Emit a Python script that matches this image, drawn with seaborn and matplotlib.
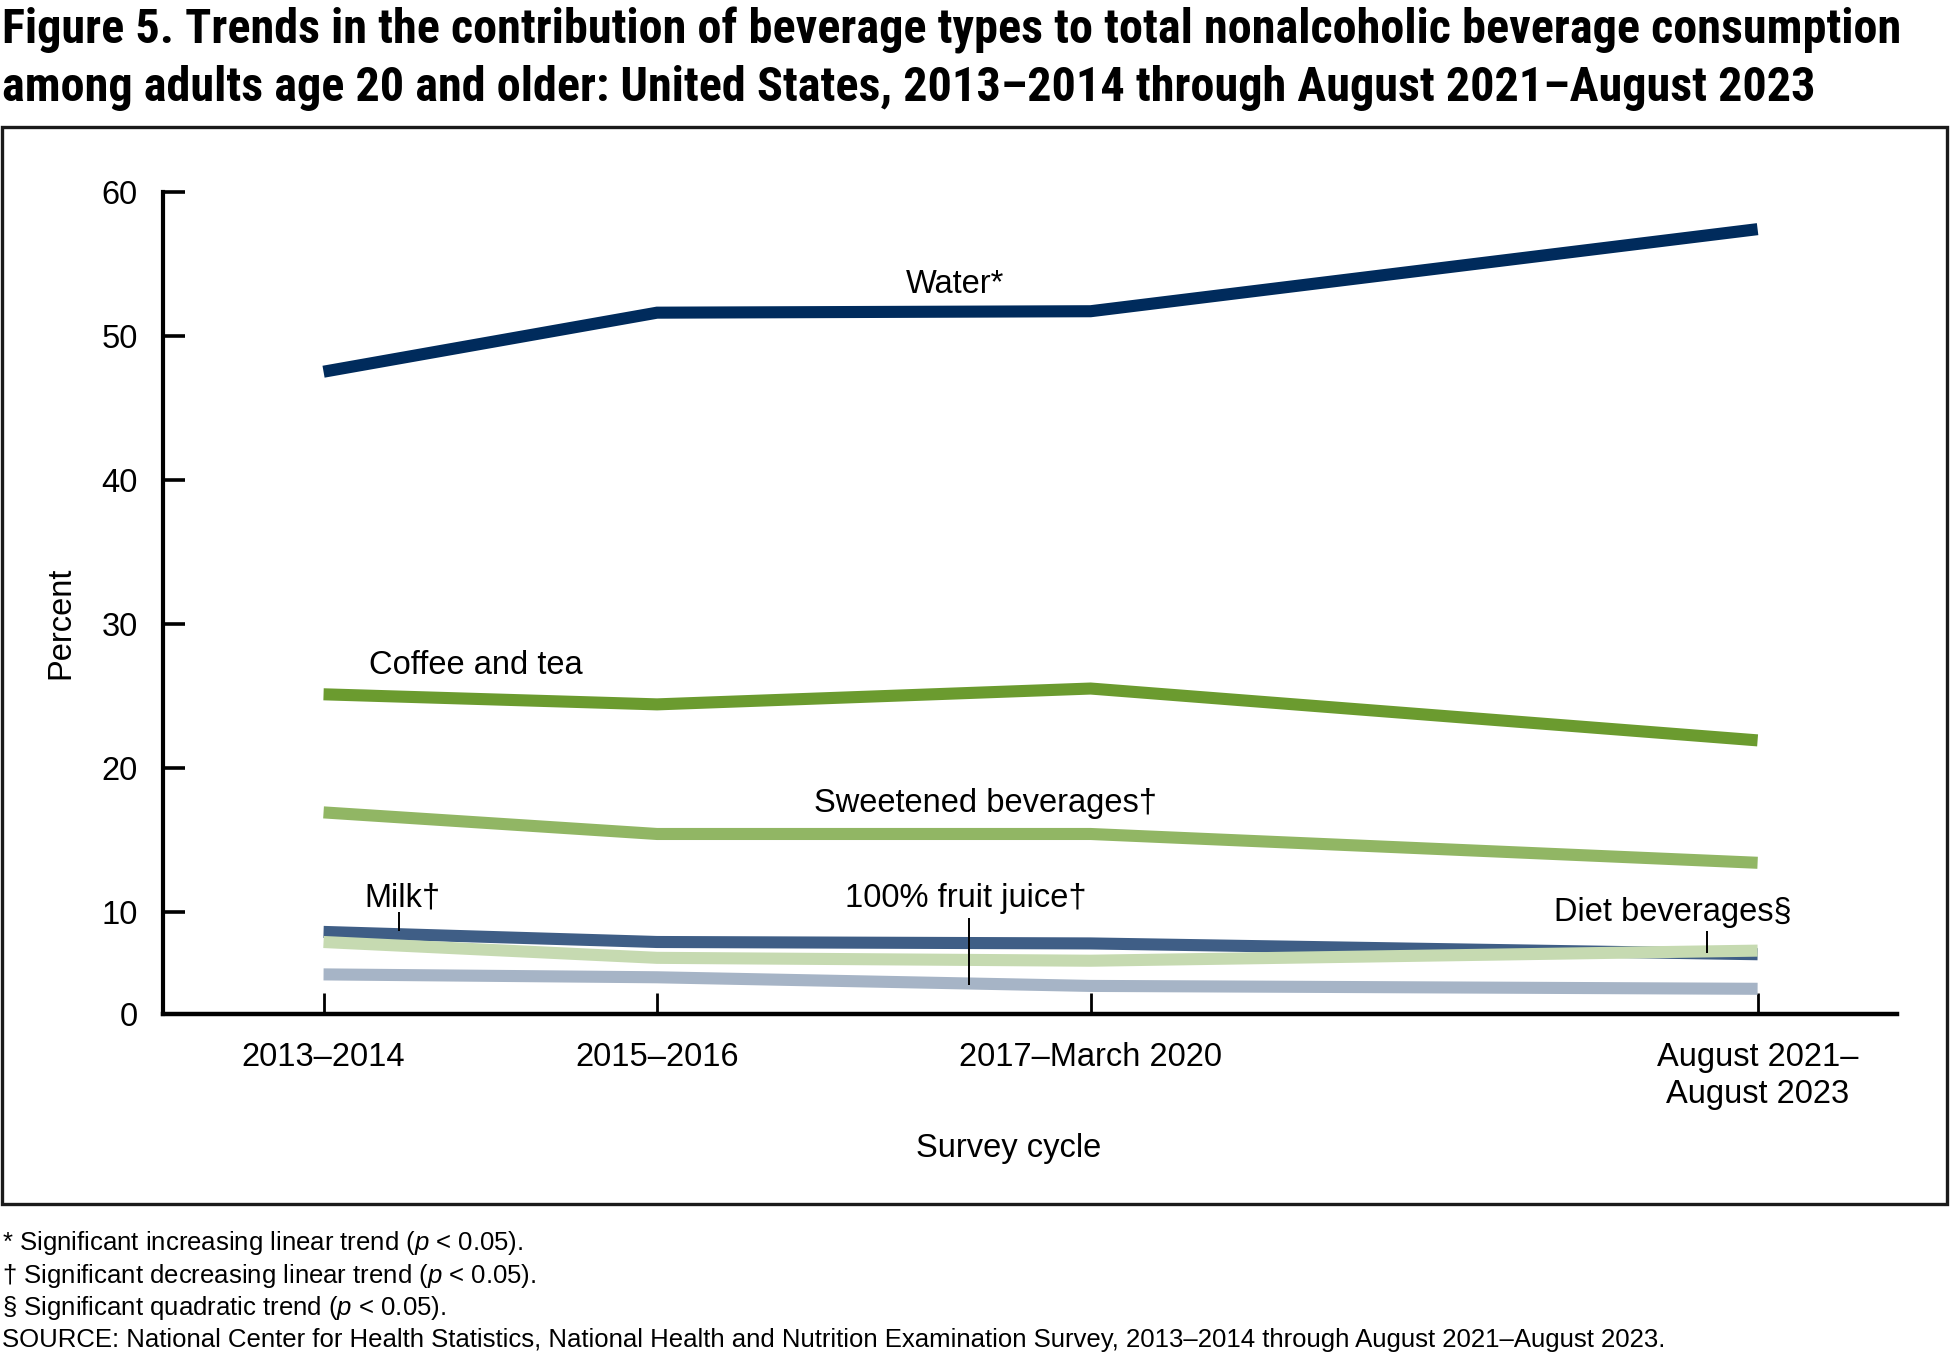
import numpy as np
import pandas as pd
import matplotlib
matplotlib.use("Agg")
import matplotlib.pyplot as plt
import seaborn as sns
from matplotlib import font_manager as fm
from matplotlib.patches import Rectangle

# ---------------- data ----------------
cycle_labels = ["2013–2014", "2015–2016", "2017–March 2020", "August 2021–\nAugust 2023"]
cycle_midyear = [2014.0, 2016.0, 2018.6, 2022.6]

water = [47.5, 51.6, 51.7, 57.4]
coffee_tea = [25.1, 24.4, 25.5, 21.9]
sweetened = [16.9, 15.4, 15.4, 13.4]
milk = [8.6, 7.9, 7.8, 7.05]
diet = [7.9, 6.8, 6.6, 7.3]
fruit_juice = [5.65, 5.45, 4.85, 4.65]

series_names = ["Water", "Coffee and tea", "Sweetened beverages",
                "Milk", "Diet beverages", "100% fruit juice"]
series_values = [water, coffee_tea, sweetened, milk, diet, fruit_juice]

y_tick_values = [10, 20, 30, 40, 50, 60]
y_tick_labels = ["10", "20", "30", "40", "50", "60"]

title_lines = [
    "Figure 5. Trends in the contribution of beverage types to total nonalcoholic beverage consumption",
    "among adults age 20 and older: United States, 2013–2014 through August 2021–August 2023",
]
footnotes = [
    "* Significant increasing linear trend ($p$ < 0.05).",
    "† Significant decreasing linear trend ($p$ < 0.05).",
    "§ Significant quadratic trend ($p$ < 0.05).",
    "SOURCE: National Center for Health Statistics, National Health and Nutrition Examination Survey, 2013–2014 through August 2021–August 2023.",
]

colors = {
    "Water": "#002B5C",
    "Coffee and tea": "#6B9B2F",
    "Sweetened beverages": "#91B664",
    "Milk": "#3F5E86",
    "Diet beverages": "#C6DAB1",
    "100% fruit juice": "#A6B4C6",
}

# ---------------- style ----------------
sns.set_theme(style="white")
plt.rcParams["font.family"] = ["Liberation Sans", "DejaVu Sans"]
plt.rcParams["mathtext.fontset"] = "custom"
plt.rcParams["mathtext.it"] = "Liberation Sans:italic"
plt.rcParams["mathtext.rm"] = "Liberation Sans"

W, H = 1951, 1356
fig = plt.figure(figsize=(W / 100, H / 100), dpi=100)
fig.patch.set_facecolor("white")

def fx(px):
    return px / W

def fy(py):
    return 1 - py / H

# axes geometry (pixels)
ax_left, ax_right, ax_bottom, ax_top = 163.3, 1897.0, 1014.0, 191.7
ax = fig.add_axes([fx(ax_left), fy(ax_bottom), fx(ax_right) - fx(ax_left), fy(ax_top) - fy(ax_bottom)])
ax.set_facecolor("white")

rows = []
for name, vals in zip(series_names, series_values):
    for yr, v in zip(cycle_midyear, vals):
        rows.append({"year": yr, "pct": v, "beverage": name})
df = pd.DataFrame(rows)

sns.lineplot(data=df, x="year", y="pct", hue="beverage", hue_order=series_names,
             palette=colors, linewidth=8.7, legend=False, estimator=None,
             sort=False, ax=ax)
for ln in ax.lines:
    ln.set_solid_capstyle("butt")
    ln.set_solid_joinstyle("miter")

y_bottom = 2.9
ax.set_xlim(2013.039, 2023.436)
ax.set_ylim(y_bottom, 60)

ax.set_xticks(cycle_midyear)
ax.set_xticklabels(cycle_labels, fontsize=23.5, linespacing=1.26)
ax.set_yticks([y_bottom] + y_tick_values)
ax.set_yticklabels(["0"] + y_tick_labels, fontsize=23.5)

ax.tick_params(axis="y", direction="in", length=16, width=2.6, pad=18.5,
               colors="black", left=True)
ax.tick_params(axis="x", direction="in", length=15, width=2.0, pad=20,
               colors="black", bottom=True)

for s in ["top", "right"]:
    ax.spines[s].set_visible(False)
ax.spines["left"].set_linewidth(3.0)
ax.spines["left"].set_color("black")
ax.spines["bottom"].set_linewidth(3.2)
ax.spines["bottom"].set_color("black")

ax.set_xlabel("Survey cycle", fontsize=23.5, color="black")
ax.xaxis.set_label_coords((1009 - ax_left) / (ax_right - ax_left),
                          (ax_bottom - 1148.5) / (ax_bottom - ax_top))
ax.xaxis.label.set_va("center")
ax.set_ylabel("Percent", fontsize=23.5, color="black")
ax.yaxis.set_label_coords((60.8 - ax_left) / (ax_right - ax_left),
                          (ax_bottom - 623) / (ax_bottom - ax_top))
ax.yaxis.label.set_va("center")

# series labels
fs = 23.5
ax.text(2017.79, 52.94, "Water*", fontsize=fs, ha="center", va="baseline", color="black")
ax.text(2014.27, 26.5, "Coffee and tea", fontsize=fs, ha="left", va="baseline", color="black")
ax.text(2017.97, 16.94, "Sweetened beverages†", fontsize=fs, ha="center", va="baseline", color="black")
ax.text(2014.47, 10.35, "Milk†", fontsize=fs, ha="center", va="baseline", color="black")
ax.text(2017.85, 10.35, "100% fruit juice†", fontsize=fs, ha="center", va="baseline", color="black")
ax.text(2022.09, 9.375, "Diet beverages§", fontsize=fs, ha="center", va="baseline", color="black")

# leader lines
ax.vlines([2014.45], 8.66, 10.0, color="black", lw=1.4)
ax.vlines([2017.87], 4.91, 9.56, color="black", lw=1.4)
ax.vlines([2022.295], 7.11, 8.68, color="black", lw=1.4)

# frame box around chart
fig.patches.append(Rectangle((fx(1.5), fy(1204)), fx(1947) - fx(1.5), fy(127) - fy(1204),
                             transform=fig.transFigure, fill=False,
                             edgecolor="#1a1a1a", linewidth=2.4, zorder=5))

# title font: a condensed bold grotesque if available
bold_fams = {}
for f in fm.fontManager.ttflist:
    try:
        wv = int(f.weight)
    except Exception:
        wv = 700 if "bold" in str(f.weight) else 400
    bold_fams.setdefault(f.name, set()).add(wv)
title_family, title_stretch = "Liberation Sans", "normal"
for cand in ["Roboto Condensed", "IBM Plex Sans Condensed", "Liberation Sans Narrow",
             "Barlow Semi Condensed", "Encode Sans Semi Condensed"]:
    if cand in bold_fams and any(w >= 600 for w in bold_fams[cand]):
        title_family, title_stretch = cand, "condensed"
        break

t1 = fig.text(fx(2), fy(44), title_lines[0], fontsize=30, fontweight="bold",
              family=[title_family, "Liberation Sans"], fontstretch=title_stretch,
              ha="left", va="baseline", color="black")
t2 = fig.text(fx(2), fy(101), title_lines[1], fontsize=30, fontweight="bold",
              family=[title_family, "Liberation Sans"], fontstretch=title_stretch,
              ha="left", va="baseline", color="black")

# footnotes
foot_base = [1250, 1282.5, 1315, 1347]
ft = []
for line, b in zip(footnotes, foot_base):
    ft.append(fig.text(fx(2), fy(b), line, fontsize=17, ha="left", va="baseline", color="black"))

# fit title and footnote sizes to measured widths (both title lines)
fig.canvas.draw()
r = fig.canvas.get_renderer()
w1 = t1.get_window_extent(r).width
w2 = t2.get_window_extent(r).width
ts = 30 * 0.5 * (1920 / w1 + 1800 / w2)
t1.set_fontsize(ts)
t2.set_fontsize(ts)
wf = ft[3].get_window_extent(r).width
fsz = 17 * 1671 / wf
for t in ft:
    t.set_fontsize(fsz)

fig.savefig("out.png", dpi=100, facecolor="white")
